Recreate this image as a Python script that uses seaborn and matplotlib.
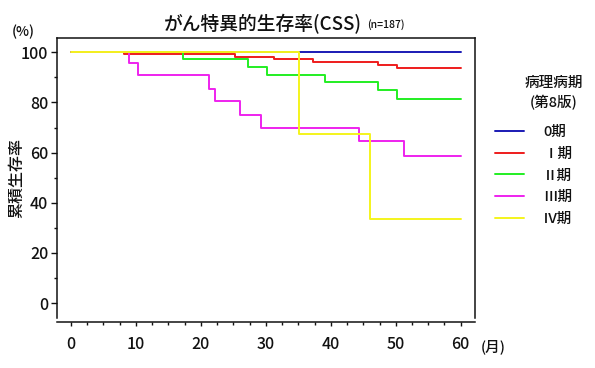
import pandas as pd
import matplotlib.pyplot as plt
import seaborn as sns

# 病期ごとの生存曲線（月, %）: 各段差の開始点
stages = ["0期", "Ⅰ期", "Ⅱ期", "Ⅲ期", "Ⅳ期"]
colors = ["#1a1ab4", "#ee1c1c", "#22ee22", "#ee22ee", "#f4f41c"]

stage0_month = [0, 60]
stage0_surv = [100, 100]
stage1_month = [0, 8.2, 25.3, 31.2, 37.2, 47.2, 50.2, 60]
stage1_surv = [100, 99.2, 98.2, 97.2, 96.0, 94.9, 93.6, 93.6]
stage2_month = [0, 17.2, 27.2, 30.2, 39.1, 47.2, 50.2, 60]
stage2_surv = [100, 97.2, 94.3, 90.8, 88.0, 85.0, 81.5, 81.5]
stage3_month = [0, 9.0, 10.3, 21.3, 22.1, 26.0, 29.2, 44.3, 51.2, 60]
stage3_surv = [100, 95.6, 90.8, 85.5, 80.5, 75.1, 70.0, 64.7, 58.8, 58.8]
stage4_month = [0, 35.1, 46.0, 60]
stage4_surv = [100, 67.3, 33.5, 33.5]

x_ticks = [0, 10, 20, 30, 40, 50, 60]
y_ticks = [0, 20, 40, 60, 80, 100]

months = [stage0_month, stage1_month, stage2_month, stage3_month, stage4_month]
survs = [stage0_surv, stage1_surv, stage2_surv, stage3_surv, stage4_surv]
df = pd.concat(
    [pd.DataFrame({"month": m, "surv": s, "stage": st}) for m, s, st in zip(months, survs, stages)],
    ignore_index=True,
)

sns.set_theme(style="ticks")
plt.rcParams["font.family"] = ["Noto Sans CJK JP", "DejaVu Sans"]
plt.rcParams["font.weight"] = "medium"
plt.rcParams["text.color"] = "#111111"

fig = plt.figure(figsize=(5.95, 3.68), dpi=100)
ax = fig.add_axes([0.0953, 0.1359, 0.703, 0.7617])

sns.lineplot(data=df, x="month", y="surv", hue="stage", hue_order=stages,
             palette=colors, drawstyle="steps-post", estimator=None, sort=False,
             linewidth=1.4, ax=ax)

ax.set_xlim(-2.2, 62.2)
ax.set_ylim(-5.9, 105.8)
ax.set_xticks(x_ticks)
ax.set_yticks(y_ticks)
ax.set_xticks([t + 2.5 * k for t in x_ticks[:-1] for k in (1, 2, 3)], minor=True)
ax.set_yticks([10, 30, 50, 70, 90], minor=True)
ax.set_xlabel("")
ax.set_ylabel("")

for sp in ax.spines.values():
    sp.set_visible(True)
    sp.set_linewidth(1.1)
    sp.set_color("#111111")
ax.spines["bottom"].set_position(("outward", 2.9))

ax.tick_params(axis="both", which="major", direction="out", labelsize=11.5,
               width=1.0, color="#111111", labelcolor="#111111")
ax.tick_params(axis="y", which="major", length=4.5, pad=1.5)
ax.tick_params(axis="x", which="major", length=3, pad=7)
ax.tick_params(axis="y", which="minor", length=2.5, width=1.0, color="#111111")
ax.tick_params(axis="x", which="minor", length=1.8, width=1.0, color="#111111")
for lab in ax.get_xticklabels() + ax.get_yticklabels():
    lab.set_fontweight("medium")

# 凡例
handles, labels = ax.get_legend_handles_labels()
ax.get_legend().remove()
fig.legend(handles, labels, loc="upper left", bbox_to_anchor=(495 / 595, 1 - 125 / 368),
           frameon=False, fontsize=10.5, handlelength=2.0, handletextpad=1.3,
           labelspacing=0.53, borderpad=0, borderaxespad=0)
fig.text(554 / 595, 1 - 83 / 368, "病理病期", ha="center", va="center", fontsize=10.5)
fig.text(554 / 595, 1 - 103 / 368, "(第8版)", ha="center", va="center", fontsize=10.5)

# タイトル・軸ラベル
fig.text(362 / 595, 1 - 24 / 368, "がん特異的生存率(CSS)", ha="right", va="center", fontsize=13.5)
fig.text(367 / 595, 1 - 25 / 368, "(n=187)", ha="left", va="center", fontsize=7.5)
fig.text(23 / 595, 1 - 32 / 368, "(%)", ha="center", va="center", fontsize=10)
fig.text(17 / 595, 1 - 178 / 368, "累積生存率", ha="center", va="center", rotation=90, fontsize=11.5)
fig.text(493 / 595, 1 - 347 / 368, "(月)", ha="center", va="center", fontsize=10.5)

fig.savefig("out.png", dpi=100)
